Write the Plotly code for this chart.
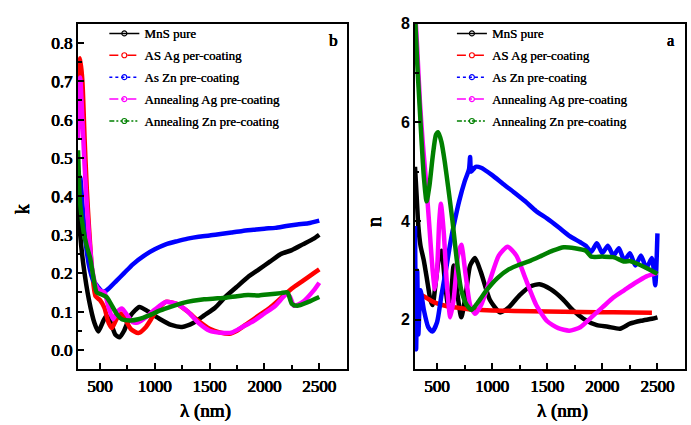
import plotly.graph_objects as go

# ---------------- extinction coefficient k (panel b) ----------------
k_wl_mns = [300, 320, 350, 400, 450, 485, 530, 560, 600, 640, 680, 720, 780, 860, 940,
            1050, 1150, 1250, 1350, 1450, 1550, 1650, 1750, 1850, 1950, 2050, 2150,
            2250, 2350, 2450, 2500]
k_mns = [0.40, 0.30, 0.22, 0.13, 0.07, 0.048, 0.075, 0.09, 0.07, 0.04, 0.033, 0.05, 0.09,
         0.112, 0.10, 0.08, 0.065, 0.06, 0.07, 0.09, 0.11, 0.14, 0.165, 0.19, 0.21, 0.23,
         0.25, 0.26, 0.275, 0.29, 0.30]

k_wl_asag = [300, 320, 340, 360, 380, 400, 430, 460, 500, 540, 580, 610, 650, 690, 730,
             780, 850, 920, 1000, 1100, 1200, 1300, 1400, 1500, 1600, 1680, 1750, 1850,
             1950, 2050, 2150, 2250, 2350, 2450, 2500]
k_asag = [0.70, 0.76, 0.70, 0.55, 0.42, 0.32, 0.20, 0.14, 0.13, 0.11, 0.07, 0.057, 0.08,
          0.095, 0.08, 0.055, 0.044, 0.06, 0.095, 0.125, 0.12, 0.10, 0.075, 0.055, 0.045,
          0.042, 0.05, 0.07, 0.09, 0.11, 0.135, 0.16, 0.18, 0.20, 0.21]

k_wl_aszn = [300, 320, 340, 370, 400, 440, 480, 530, 580, 650, 720, 800, 900, 1000, 1100,
             1200, 1300, 1400, 1500, 1600, 1700, 1800, 1900, 2000, 2100, 2200, 2300, 2400,
             2500]
k_aszn = [0.40, 0.45, 0.38, 0.28, 0.22, 0.18, 0.165, 0.15, 0.16, 0.18, 0.20, 0.223, 0.245,
          0.262, 0.275, 0.283, 0.29, 0.295, 0.298, 0.302, 0.306, 0.31, 0.313, 0.316, 0.318,
          0.323, 0.327, 0.33, 0.337]

k_wl_anag = [300, 320, 340, 360, 380, 400, 430, 460, 500, 540, 580, 620, 660, 700, 750,
             800, 850, 920, 1000, 1100, 1200, 1300, 1400, 1500, 1600, 1700, 1800, 1900,
             2000, 2100, 2200, 2230, 2270, 2350, 2450, 2500]
k_anag = [0.55, 0.71, 0.60, 0.48, 0.38, 0.30, 0.21, 0.17, 0.155, 0.15, 0.11, 0.08, 0.10,
          0.108, 0.09, 0.072, 0.072, 0.085, 0.105, 0.125, 0.12, 0.10, 0.07, 0.05, 0.045,
          0.045, 0.06, 0.075, 0.095, 0.115, 0.145, 0.14, 0.115, 0.125, 0.155, 0.175]

k_wl_anzn = [300, 320, 350, 380, 410, 440, 470, 510, 560, 600, 650, 700, 780, 850, 950,
             1050, 1150, 1250, 1350, 1450, 1550, 1650, 1750, 1850, 1950, 2050, 2150, 2210,
             2250, 2300, 2400, 2500]
k_anzn = [0.52, 0.38, 0.31, 0.27, 0.24, 0.19, 0.15, 0.145, 0.138, 0.12, 0.095, 0.08, 0.077,
          0.08, 0.09, 0.103, 0.113, 0.122, 0.128, 0.132, 0.134, 0.136, 0.14, 0.143, 0.142,
          0.145, 0.148, 0.15, 0.12, 0.115, 0.125, 0.138]

# ---------------- refractive index n (panel a) ----------------
n_wl_mns = [300, 315, 330, 350, 380, 410, 440, 460, 490, 520, 540, 570, 600, 630, 650, 680,
            720, 760, 800, 845, 900, 980, 1070, 1150, 1250, 1350, 1430, 1530, 1640, 1730,
            1830, 1950, 2050, 2160, 2250, 2350, 2450, 2500]
n_mns = [5.1, 4.5, 3.9, 3.5, 3.2, 2.8, 2.4, 2.3, 2.8, 3.3, 3.4, 2.8, 2.3, 2.6, 3.1, 2.6,
         2.05, 2.5, 3.1, 3.25, 2.95, 2.4, 2.15, 2.25, 2.5, 2.68, 2.72, 2.62, 2.42, 2.2,
         2.02, 1.89, 1.86, 1.82, 1.92, 1.98, 2.02, 2.05]

n_wl_asag = [300, 330, 360, 400, 450, 500, 600, 700, 800, 900, 1000, 1200, 1500, 1800,
             2100, 2450]
n_asag = [2.65, 2.55, 2.5, 2.45, 2.38, 2.33, 2.27, 2.24, 2.21, 2.2, 2.19, 2.18, 2.17, 2.16,
          2.15, 2.14]

n_wl_aszn = [300, 310, 320, 330, 350, 380, 420, 457, 500, 540, 580, 620, 660, 700, 750,
             790, 800, 810, 850, 900, 1000, 1100, 1200, 1300, 1400, 1500, 1600, 1700, 1800,
             1850, 1900, 1950, 2000, 2050, 2100, 2150, 2200, 2250, 2300, 2350, 2400, 2450,
             2480, 2500]
n_aszn = [3.9, 1.4, 3.0, 1.7, 2.6, 2.2, 1.85, 1.76, 1.95, 2.5, 3.0, 3.55, 4.0, 4.4, 4.8,
          5.05, 5.3, 5.0, 5.1, 5.08, 4.93, 4.75, 4.58, 4.4, 4.2, 4.05, 3.88, 3.7, 3.57,
          3.5, 3.38, 3.55, 3.35, 3.5, 3.3, 3.45, 3.2, 3.35, 3.1, 3.3, 3.05, 3.25, 2.7, 3.75]

n_wl_anag = [300, 320, 345, 370, 400, 430, 460, 480, 500, 520, 535, 560, 590, 620, 650,
             690, 720, 760, 800, 845, 900, 980, 1060, 1140, 1220, 1300, 1400, 1500, 1600,
             1700, 1800, 1900, 2000, 2100, 2200, 2300, 2400, 2500]
n_anag = [8.3, 7.5, 6.4, 5.6, 4.8, 3.9, 3.0, 2.62, 3.0, 4.0, 4.35, 3.8, 2.7, 2.05, 2.4,
          3.3, 3.52, 2.9, 2.3, 2.12, 2.3, 2.8, 3.3, 3.48, 3.3, 2.85, 2.3, 1.97, 1.83, 1.78,
          1.85, 2.05, 2.25, 2.45, 2.6, 2.75, 2.88, 2.95]

n_wl_anzn = [300, 320, 340, 360, 380, 405, 430, 460, 490, 510, 540, 570, 600, 640, 680,
             720, 770, 815, 870, 950, 1050, 1150, 1250, 1350, 1450, 1550, 1650, 1750, 1850,
             1900, 2000, 2100, 2200, 2250, 2300, 2400, 2500]
n_anzn = [8.2, 7.2, 6.4, 5.6, 4.9, 4.4, 4.7, 5.3, 5.75, 5.8, 5.6, 5.2, 4.7, 4.0, 3.2, 2.6,
          2.3, 2.2, 2.35, 2.6, 2.85, 3.02, 3.12, 3.2, 3.3, 3.4, 3.47, 3.45, 3.4, 3.28, 3.28,
          3.27, 3.18, 3.19, 3.15, 3.05, 2.93]

series_names = ["MnS pure", "AS Ag per-coating", "As Zn pre-coating",
                "Annealing Ag pre-coating", "Annealing Zn pre-coating"]
series_colors = ["#000000", "#FF0000", "#0000FF", "#FF00FF", "#008000"]
series_dash = ["solid", "dash", "dot", "dashdot", "5px,2px,2px,2px,2px,2px"]

k_sets = [(k_wl_mns, k_mns), (k_wl_asag, k_asag), (k_wl_aszn, k_aszn),
          (k_wl_anag, k_anag), (k_wl_anzn, k_anzn)]
n_sets = [(n_wl_mns, n_mns), (n_wl_asag, n_asag), (n_wl_aszn, n_aszn),
          (n_wl_anag, n_anag), (n_wl_anzn, n_anzn)]

SERIF = "Liberation Serif"
SANS = "Liberation Sans"
# thickened serif text (a light stroke via text-shadow)
HEAVY = "0.45px 0px 0px black, -0.3px 0px 0px black, 0px 0.3px 0px black"


def serif_font(size, heavy=True):
    f = dict(family=SERIF, size=size, color="black")
    if heavy:
        f["shadow"] = HEAVY
    return f


fig = go.Figure()

for (wl, vals), col in zip(k_sets, series_colors):
    fig.add_trace(go.Scatter(x=wl, y=vals, mode="lines", xaxis="x", yaxis="y",
                             line=dict(color=col, width=4.5, shape="spline", smoothing=0.6),
                             showlegend=False, hoverinfo="skip"))
for (wl, vals), col in zip(n_sets, series_colors):
    fig.add_trace(go.Scatter(x=wl, y=vals, mode="lines", xaxis="x2", yaxis="y2",
                             line=dict(color=col, width=4.5, shape="spline", smoothing=0.6),
                             showlegend=False, hoverinfo="skip"))

# legend entries (thin styled line with an open-circle marker)
for leg, xa, ya in (("legend", "x", "y"), ("legend2", "x2", "y2")):
    for i, (name, col, dash) in enumerate(zip(series_names, series_colors, series_dash)):
        fig.add_trace(go.Scatter(x=[None], y=[None], mode="lines+markers", name=name,
                                 xaxis=xa, yaxis=ya, legend=leg, legendgroup=f"{leg}{i}",
                                 line=dict(color=col, width=1.5, dash=dash),
                                 marker=dict(symbol="circle-open", size=5, color=col,
                                             line=dict(width=1.2))))

axis_common = dict(showline=True, linecolor="black", linewidth=2, mirror=True,
                   ticks="inside", ticklen=6, tickwidth=1.5, tickcolor="black",
                   showgrid=False, zeroline=False)

xaxis_common = dict(axis_common, range=[300, 2750], tick0=500, dtick=500,
                    tickfont=serif_font(17),
                    minor=dict(ticks="inside", ticklen=4, tickwidth=1.5, tickcolor="black",
                               tick0=250, dtick=250, showgrid=False))

legend_font = dict(family=SERIF, size=13, color="black", shadow="0.3px 0px 0px black")

fig.update_layout(
    width=691, height=425,
    margin=dict(l=0, r=0, t=0, b=0),
    paper_bgcolor="white", plot_bgcolor="white",
    xaxis=dict(xaxis_common, domain=[0.1129, 0.5017], anchor="y"),
    yaxis=dict(axis_common, domain=[0.134, 0.9624], anchor="x",
               range=[-0.05, 0.85], tick0=0, dtick=0.1, tickformat=".1f",
               tickfont=serif_font(17),
               minor=dict(ticks="inside", ticklen=4, tickwidth=1.5, tickcolor="black",
                          tick0=0, dtick=0.05, showgrid=False)),
    xaxis2=dict(xaxis_common, domain=[0.6006, 0.9913], anchor="y2"),
    yaxis2=dict(axis_common, domain=[0.134, 0.9624], anchor="x2",
                range=[1, 8], tickvals=[2, 4, 6, 8],
                tickfont=dict(family=SANS, size=16, color="black", weight="bold"),
                minor=dict(ticks="inside", ticklen=4, tickwidth=1.5, tickcolor="black",
                           tickvals=[1, 3, 5, 7], showgrid=False)),
    legend=dict(x=0.151, y=0.975, xanchor="left", yanchor="top",
                bgcolor="rgba(0,0,0,0)", traceorder="grouped", tracegroupgap=2,
                font=legend_font),
    legend2=dict(x=0.654, y=0.975, xanchor="left", yanchor="top",
                 bgcolor="rgba(0,0,0,0)", traceorder="grouped", tracegroupgap=2,
                 font=legend_font),
)

# panel letters and axis titles, placed by pixel position
W, H = 691, 425
labels = [
    ("b", 333, 33, 17, 0),
    ("a", 670, 33, 16, 0),
    ("k", 22, 205, 20, -90),
    ("n", 374, 218, 20, -90),
    ("λ (nm)", 206, 411, 19, 0),
    ("λ (nm)", 562, 411, 19, 0),
]
for text, px, py, size, ang in labels:
    fig.add_annotation(text=text, x=px / W, y=1 - py / H, xref="paper", yref="paper",
                       showarrow=False, textangle=ang, xanchor="center", yanchor="middle",
                       font=serif_font(size))

fig.write_html("out.html")
